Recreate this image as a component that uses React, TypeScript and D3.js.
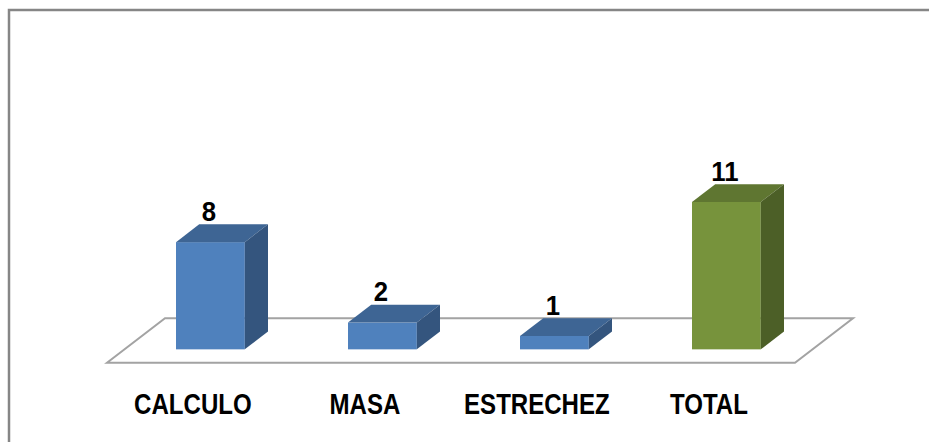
import React from "react";
import * as d3 from "d3";

const categories = ["CALCULO", "MASA", "ESTRECHEZ", "TOTAL"];
const values = [8, 2, 1, 11];
const seriesKind = ["part", "part", "part", "total"];

const W = 929;
const H = 442;
// floor geometry
const floorFrontY = 362.7;
const floorX0 = 107;
const floorX1 = 795;
const depthDX = 58;
const depthDY = -44.5;
const barFrontFrac = 0.3;
const barDepthFrac = 0.4;

const colors: Record<string, { front: string; top: string; side: string }> = {
  part: { front: "#4F81BD", top: "#3E6594", side: "#34557E" },
  total: { front: "#77933C", top: "#5F7631", side: "#4C5F27" },
};

export default function App() {
  const baseX0 = floorX0 + barFrontFrac * depthDX;
  const baseX1 = floorX1 + barFrontFrac * depthDX;
  const baseY = floorFrontY + barFrontFrac * depthDY;
  const x = d3
    .scaleBand<string>()
    .domain(categories)
    .range([baseX0, baseX1])
    .paddingInner(0.6)
    .paddingOuter(0.3);
  const y = d3.scaleLinear().domain([0, 12]).range([baseY, baseY - 12 * 13.4]);
  const bdx = barDepthFrac * depthDX;
  const bdy = barDepthFrac * depthDY;

  const floorPts = [
    [floorX0, floorFrontY],
    [floorX0 + depthDX, floorFrontY + depthDY],
    [floorX1 + depthDX, floorFrontY + depthDY],
    [floorX1, floorFrontY],
  ];
  const line = d3.line();

  return (
    <svg
      width={W}
      height={H}
      style={{ position: "absolute", left: 0, top: 0, background: "#fff" }}
    >
      <rect x={9} y={10} width={1000} height={1000} fill="none" stroke="#868686" strokeWidth={2.5} />
      <path d={line(floorPts as [number, number][]) + "Z"} fill="none" stroke="#A3A3A3" strokeWidth={2} />
      {categories.map((c, i) => {
        const x0 = x(c)!;
        const bw = x.bandwidth();
        const yt = y(values[i]);
        const yb = y(0);
        const col = colors[seriesKind[i]];
        const top = [
          [x0, yt],
          [x0 + bdx, yt + bdy],
          [x0 + bw + bdx, yt + bdy],
          [x0 + bw, yt],
        ] as [number, number][];
        const side = [
          [x0 + bw, yt],
          [x0 + bw + bdx, yt + bdy],
          [x0 + bw + bdx, yb + bdy],
          [x0 + bw, yb],
        ] as [number, number][];
        const cx = x0 + bw / 2;
        return (
          <g key={c}>
            <rect x={x0} y={yt} width={bw} height={yb - yt} fill={col.front} />
            <path d={line(top) + "Z"} fill={col.top} />
            <path d={line(side) + "Z"} fill={col.side} />
            <g transform={`translate(${cx - 1.5},${yt + bdy - 3.5}) scale(0.92,1)`}>
              <text
                x={0}
                y={0}
                textAnchor="middle"
                fontFamily="'Liberation Sans', Arial, sans-serif"
                fontWeight="bold"
                fontSize={28}
                fill="#000"
              >
                {values[i]}
              </text>
            </g>
            <g transform={`translate(${cx - 17.5},413.5) scale(0.83,1)`}>
              <text
                x={0}
                y={0}
                textAnchor="middle"
                fontFamily="'Liberation Sans', Arial, sans-serif"
                fontWeight="bold"
                fontSize={29}
                fill="#000"
              >
                {c}
              </text>
            </g>
          </g>
        );
      })}
    </svg>
  );
}
